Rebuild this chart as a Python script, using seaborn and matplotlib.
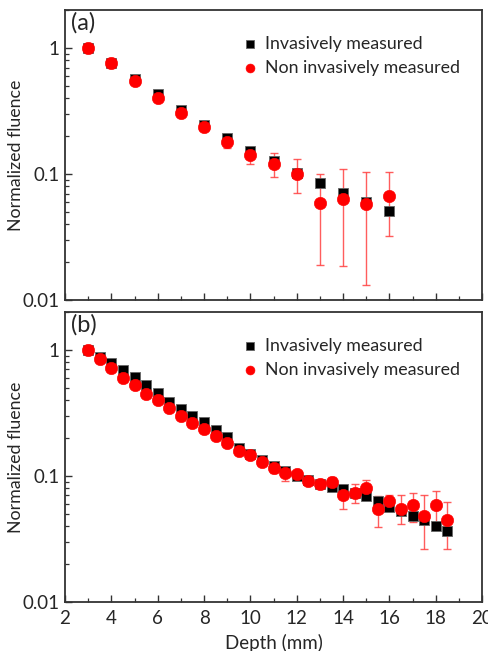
import numpy as np
import pandas as pd
import matplotlib
matplotlib.use("Agg")
import matplotlib.pyplot as plt
import matplotlib.ticker as mticker
import seaborn as sns

# ---------------- data ----------------
depth_a = [3, 4, 5, 6, 7, 8, 9, 10, 11, 12, 13, 14, 15, 16]
inv_a = [1.0, 0.766, 0.569, 0.428, 0.322, 0.246, 0.193, 0.153, 0.126, 0.102,
         0.0847, 0.071, 0.0596, 0.0506]
non_a = [1.0, 0.76, 0.548, 0.403, 0.305, 0.236, 0.181, 0.142, 0.120, 0.101,
         0.0588, 0.064, 0.058, 0.0672]
non_a_lo = [0.97, 0.735, 0.525, 0.385, 0.29, 0.225, 0.160, 0.120, 0.094, 0.0705,
            0.019, 0.0188, 0.0133, 0.032]
non_a_hi = [1.03, 0.785, 0.57, 0.42, 0.32, 0.25, 0.204, 0.164, 0.148, 0.131,
            0.0997, 0.110, 0.103, 0.103]

depth_b = [3, 3.5, 4, 4.5, 5, 5.5, 6, 6.5, 7, 7.5, 8, 8.5, 9, 9.5, 10, 10.5,
           11, 11.5, 12, 12.5, 13, 13.5, 14, 14.5, 15, 15.5, 16, 16.5, 17, 17.5,
           18, 18.5]
inv_b = [1.0, 0.875, 0.785, 0.695, 0.608, 0.523, 0.455, 0.386, 0.340, 0.299,
         0.267, 0.233, 0.202, 0.168, 0.149, 0.134, 0.121, 0.110, 0.100, 0.093,
         0.086, 0.0823, 0.0785, 0.073, 0.0687, 0.0627, 0.057, 0.053, 0.0477,
         0.045, 0.0403, 0.0368]
non_b = [1.0, 0.849, 0.721, 0.601, 0.523, 0.450, 0.398, 0.344, 0.301, 0.262,
         0.235, 0.207, 0.183, 0.157, 0.146, 0.128, 0.115, 0.105, 0.103, 0.092,
         0.087, 0.090, 0.0708, 0.073, 0.080, 0.0546, 0.0638, 0.0549, 0.0583,
         0.0477, 0.0587, 0.0444]
non_b_lo = [0.98, 0.83, 0.705, 0.59, 0.51, 0.44, 0.39, 0.336, 0.294, 0.256,
            0.23, 0.202, 0.178, 0.153, 0.142, 0.124, 0.105, 0.0918, 0.099, 0.089,
            0.084, 0.083, 0.0546, 0.061, 0.0655, 0.0394, 0.057, 0.0418, 0.0433,
            0.0264, 0.040, 0.0265]
non_b_hi = [1.02, 0.868, 0.737, 0.612, 0.535, 0.46, 0.406, 0.352, 0.308, 0.268,
            0.24, 0.212, 0.188, 0.161, 0.15, 0.132, 0.125, 0.115, 0.107, 0.095,
            0.09, 0.0977, 0.085, 0.0865, 0.093, 0.0687, 0.0712, 0.0701, 0.0738,
            0.070, 0.0766, 0.0623]

labels = ["Invasively measured", "Non invasively measured"]
panel_tags = ["(a)", "(b)"]
x_ticks = [2, 4, 6, 8, 10, 12, 14, 16, 18, 20]
y_ticks = [0.01, 0.1, 1]
y_tick_labels = ["0.01", "0.1", "1"]

# ---------------- style ----------------
sns.set_style("ticks")
plt.rcParams["font.family"] = ["Lato", "DejaVu Sans"]

fig = plt.figure(figsize=(4.89, 6.51), dpi=100)
ax_a = fig.add_axes([0.133, 0.539, 0.853, 0.4455])
ax_b = fig.add_axes([0.133, 0.0753, 0.853, 0.4455])

spine_col = "#333333"

def draw(ax, depth, inv, non, lo, hi, tag, show_x):
    df_inv = pd.DataFrame({"Depth": depth, "Fluence": inv})
    df_non = pd.DataFrame({"Depth": depth, "Fluence": non})
    non_arr = np.array(non)
    yerr = np.vstack([non_arr - np.array(lo), np.array(hi) - non_arr])
    ax.errorbar(depth, non, yerr=yerr, fmt="none", ecolor="#ff4040",
                elinewidth=1.0, capsize=3, capthick=1.0, alpha=0.85, zorder=1)
    sns.scatterplot(data=df_inv, x="Depth", y="Fluence", ax=ax, marker="s",
                    color="black", edgecolor="#666666", linewidth=0.6, s=58,
                    label=labels[0], zorder=2)
    sns.scatterplot(data=df_non, x="Depth", y="Fluence", ax=ax, marker="o",
                    color="#ff0000", edgecolor="#ff0000", linewidth=0.4, s=80,
                    label=labels[1], zorder=3)
    ax.set_yscale("log")
    ax.set_ylim(0.01, 2)
    ax.set_xlim(2, 20)
    ax.set_yticks(y_ticks)
    ax.set_yticklabels(y_tick_labels)
    ax.yaxis.set_minor_locator(mticker.LogLocator(base=10, subs=np.arange(2, 10)))
    ax.yaxis.set_minor_formatter(mticker.NullFormatter())
    ax.set_xticks(x_ticks)
    ax.xaxis.set_minor_locator(mticker.MultipleLocator(1))
    ax.tick_params(axis="both", which="major", direction="in", length=5,
                   width=1.0, color=spine_col, labelsize=13.5)
    ax.tick_params(axis="x", which="major", pad=6)
    ax.tick_params(axis="y", which="major", pad=4)
    ax.tick_params(axis="both", which="minor", direction="in", length=3,
                   width=0.9, color=spine_col)
    ax.tick_params(top=False, right=False, which="both")
    if not show_x:
        ax.tick_params(axis="x", labelbottom=False)
        ax.set_xlabel("")
    else:
        ax.set_xlabel("Depth (mm)", fontsize=13.5, labelpad=5)
    ax.set_ylabel("Normalized fluence", fontsize=12.8)
    for sp in ax.spines.values():
        sp.set_visible(True)
        sp.set_color(spine_col)
        sp.set_linewidth(1.3)
    ax.text(0.014, 0.955, tag, transform=ax.transAxes, fontsize=17,
            va="center", ha="left")
    ax.legend(loc="upper left", bbox_to_anchor=(0.40, 0.935),
              frameon=False, fontsize=12.8, markerscale=0.72,
              handletextpad=0.25, labelspacing=0.45, borderaxespad=0,
              handlelength=1.2)

draw(ax_a, depth_a, inv_a, non_a, non_a_lo, non_a_hi, panel_tags[0], False)
draw(ax_b, depth_b, inv_b, non_b, non_b_lo, non_b_hi, panel_tags[1], True)

for ax in (ax_a, ax_b):
    ax.yaxis.set_label_coords(-0.098, 0.5)

fig.savefig("out.png", dpi=100)
